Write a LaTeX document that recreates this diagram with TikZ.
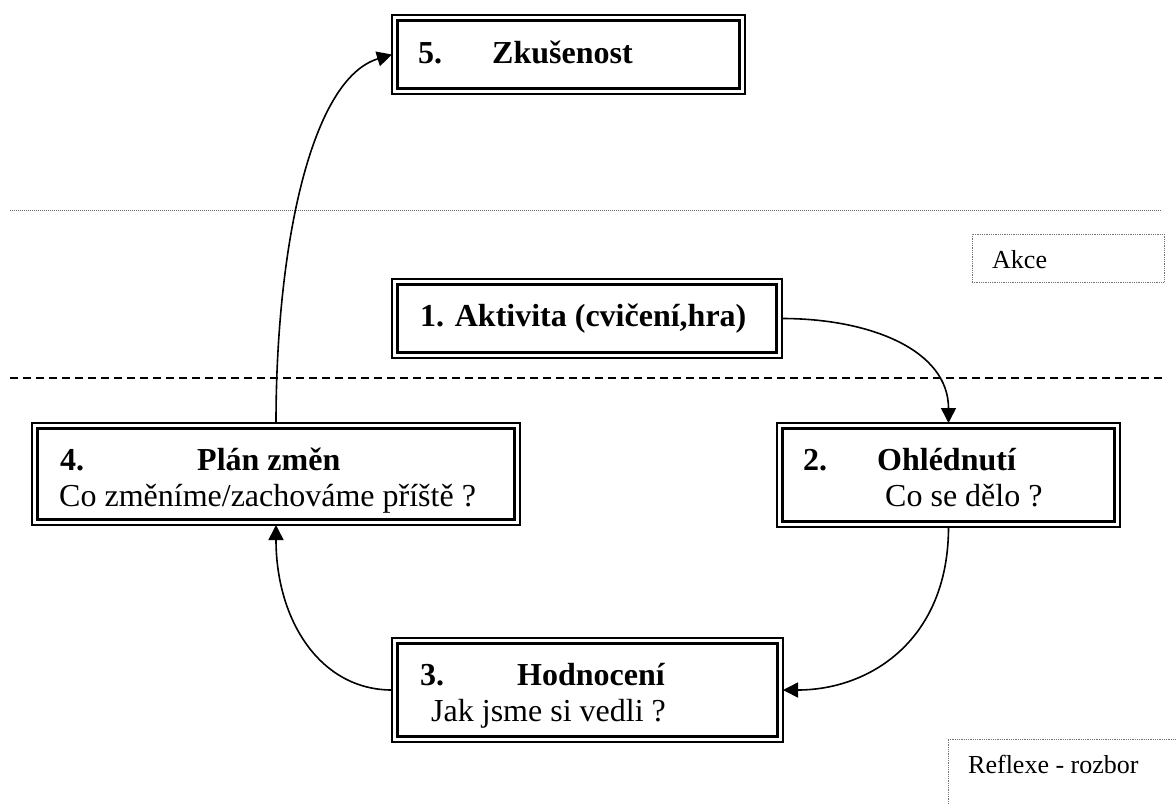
\documentclass[tikz,border=0pt]{standalone}
\usepackage{fontspec}
\setmainfont{Liberation Serif}
\usetikzlibrary{arrows.meta}

\tikzset{
  box/.style={draw, line width=1.5pt, anchor=north west, inner sep=0pt, outer sep=0pt},
  innerline/.style={line width=2.5pt},
  flow/.style={line width=1.6pt, -{Triangle[length=15pt, width=15pt]}},
  boxtext/.style={anchor=base west, inner sep=0pt, font=\fontsize{32}{36}\selectfont},
  tag/.style={draw=black!55, densely dotted, line width=0.8pt, anchor=north west, inner sep=0pt, outer sep=0pt},
  tagtext/.style={anchor=base west, inner sep=0pt, font=\fontsize{26}{30}\selectfont},
}

\begin{document}
\begin{tikzpicture}[x=1pt, y=-1pt]
\useasboundingbox (0,0) rectangle (1176,804);
\fill[white] (0,0) rectangle (1176,804);
\clip (0,0) rectangle (1176,804);

% separators
\draw[black!60, densely dotted, line width=1pt] (10,210) -- (1162,210);
\draw[dash pattern=on 8pt off 5pt, line width=1.3pt] (10,378) -- (1165,378);

% side tags
\node[tag, minimum width=192, minimum height=48] (akce) at (972,234) {};
\node[tagtext] (akceT) at (992,268) {Akce};
\node[tag, minimum width=242, minimum height=91] (reflexe) at (948,739) {};
\node[tagtext] (reflexeT) at (968,773) {Reflexe - rozbor};

% boxes
\node[box, minimum width=353, minimum height=79] (zkusenost) at (392,15) {};
\node[box, minimum width=390, minimum height=79] (aktivita) at (392,279) {};
\node[box, minimum width=343, minimum height=104] (ohlednuti) at (777,423) {};
\node[box, minimum width=391, minimum height=104] (hodnoceni) at (392,638) {};
\node[box, minimum width=488, minimum height=102] (plan) at (32,423) {};
\foreach \b in {zkusenost,aktivita,ohlednuti,hodnoceni,plan}
  \draw[innerline] ([shift={(5.5,5.5)}]\b.north west) rectangle ([shift={(-5.5,-5.5)}]\b.south east);

% texts
\node[boxtext] (zkusenostT) at (418,63) {\textbf{5.\hspace{50pt}Zkušenost}};
\node[boxtext] (aktivitaT) at (420,326) {\textbf{1. Aktivita (cvičení,hra)}};
\node[boxtext] (ohlednutiT) at (803,470) {\textbf{2.\hspace{50pt}Ohlédnutí}};
\node[boxtext] (ohlednutiQ) at (885,506) {Co se dělo ?};
\node[boxtext] (hodnoceniT) at (420,685) {\textbf{3.\hspace{73pt}Hodnocení}};
\node[boxtext] (hodnoceniQ) at (431,721) {Jak jsme si vedli ?};
\node[boxtext] (planT) at (60,470) {\textbf{4.\hspace{113pt}Plán změn}};
\node[boxtext] (planQ) at (59,506) {Co změníme/zachováme příště ?};

% cycle
\draw[flow] (aktivita.east) .. controls +(88,0) and +(0,-73) .. (ohlednuti.north);
\draw[flow] (ohlednuti.south) .. controls +(0,113) and +(87,0) .. (hodnoceni.east);
\draw[flow] (hodnoceni.west) .. controls +(-72,0) and +(0,95) .. (plan.south);
\draw[flow] (plan.north) .. controls +(0,-173) and +(-82,25) .. (zkusenost.west);
\end{tikzpicture}
\end{document}
